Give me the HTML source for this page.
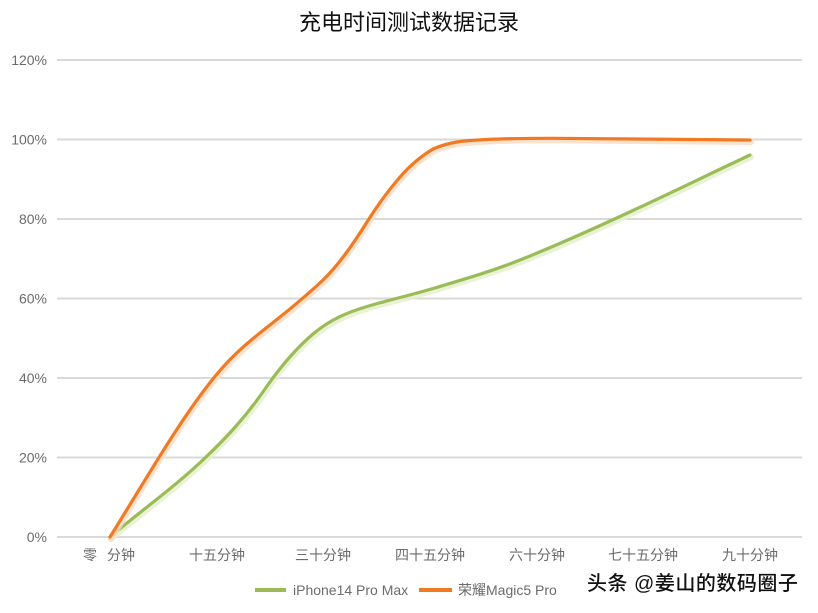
<!DOCTYPE html>
<html>
<head>
<meta charset="utf-8">
<style>
  html,body{margin:0;padding:0;background:#fff;}
  body{width:818px;height:613px;overflow:hidden;position:relative;}
  svg{position:absolute;left:0;top:0;}
  .ax{font-family:"Liberation Sans","Noto Sans CJK SC",sans-serif;font-size:14px;fill:#6b6b6b;}
</style>
</head>
<body>
<svg width="818" height="613" viewBox="0 0 818 613" xmlns="http://www.w3.org/2000/svg">
  <defs>
    <path id="g" d="M110,537 C141.67,510.1 173.33,488.1 205,458 C225,439 245,418 265,389 C281,365.8 297,347.6 313,334 C331,318.7 349,311.9 367,306.5 C389,299.9 411,295.1 433,288.5 C462,279.8 491,271.6 520,260 C553.33,246.67 586.67,231.83 620,216.5 C663.33,196.57 706.67,175.37 750,155"/>
    <path id="o" d="M110,537 C145.67,479.9 181.33,416.8 217,374 C238,348.8 259,333.8 280,317 C294.33,305.5 308.67,293.6 323,280 C337.67,266.1 352.33,245.5 367,222 C378,204.4 389,189.65 400,177 C411,164.35 422,155.6 433,149 C451,140.9 469,140.4 487,139.5 C509,138.4 531,138.3 553,138.3 C619,138.3 684,140 750,140"/>
  </defs>

  <!-- title -->
  <text x="409" y="30" text-anchor="middle" font-family="'Liberation Sans','Noto Sans CJK SC',sans-serif" font-size="22" fill="#111">充电时间测试数据记录</text>

  <!-- gridlines -->
  <g stroke="#d9d9d9" stroke-width="2">
    <line x1="57" y1="60" x2="802" y2="60"/>
    <line x1="57" y1="139.5" x2="802" y2="139.5"/>
    <line x1="57" y1="219" x2="802" y2="219"/>
    <line x1="57" y1="298.5" x2="802" y2="298.5"/>
    <line x1="57" y1="378" x2="802" y2="378"/>
    <line x1="57" y1="457.5" x2="802" y2="457.5"/>
    <line x1="57" y1="537" x2="802" y2="537"/>
  </g>

  <!-- y labels -->
  <g class="ax" text-anchor="end">
    <text x="47" y="65">120%</text>
    <text x="47" y="144.5">100%</text>
    <text x="47" y="224">80%</text>
    <text x="47" y="303.5">60%</text>
    <text x="47" y="383">40%</text>
    <text x="47" y="462.5">20%</text>
    <text x="47" y="542">0%</text>
  </g>

  <!-- x labels -->
  <g class="ax" text-anchor="middle">
    <text x="90" y="560">零</text>
    <text x="121" y="560">分钟</text>
    <text x="217" y="560">十五分钟</text>
    <text x="323" y="560">三十分钟</text>
    <text x="430" y="560">四十五分钟</text>
    <text x="537" y="560">六十分钟</text>
    <text x="643" y="560">七十五分钟</text>
    <text x="750" y="560">九十分钟</text>
  </g>

  <!-- green series (iPhone) -->
  <g fill="none" stroke-linejoin="round" stroke-linecap="round">
    <use href="#g" transform="translate(1,2)" stroke="#e4efc8" stroke-width="6" opacity="0.8"/>
    <use href="#g" stroke="#9bbb59" stroke-width="3.2"/>
  </g>

  <!-- orange series (Honor) -->
  <g fill="none" stroke-linejoin="round" stroke-linecap="round">
    <use href="#o" transform="translate(1,2)" stroke="#fbd9bf" stroke-width="6" opacity="0.8"/>
    <use href="#o" stroke="#f07a24" stroke-width="3.2"/>
  </g>

  <!-- legend -->
  <line x1="255" y1="590" x2="286" y2="590" stroke="#9bbb59" stroke-width="4"/>
  <text x="293" y="595" class="ax" fill="#595959">iPhone14 Pro Max</text>
  <line x1="419" y1="590" x2="452" y2="590" stroke="#f07a24" stroke-width="4"/>
  <text x="458" y="595" class="ax" fill="#595959">荣耀Magic5 Pro</text>

  <!-- watermark -->
  <text x="587" y="590" font-family="'Liberation Sans','Noto Sans CJK SC',sans-serif" font-size="20" font-weight="500" fill="#111"
    stroke="#ffffff" stroke-width="3" paint-order="stroke" letter-spacing="0.5">头条 @姜山的数码圈子</text>
</svg>
</body>
</html>
